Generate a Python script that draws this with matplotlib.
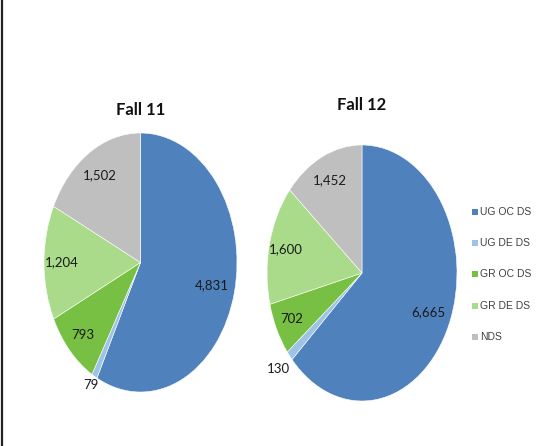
import matplotlib
matplotlib.use("Agg")
import matplotlib.pyplot as plt
import numpy as np

categories = ["UG OC DS", "UG DE DS", "GR OC DS", "GR DE DS", "NDS"]
fall11 = [4831, 79, 793, 1204, 1502]
fall12 = [6665, 130, 702, 1600, 1452]
labels11 = ["4,831", "79", "793", "1,204", "1,502"]
labels12 = ["6,665", "130", "702", "1,600", "1,452"]
titles = ["Fall 11", "Fall 12"]
colors = ["#4F81BD", "#9DC3E6", "#77C043", "#A9DB8A", "#BFBFBF"]

W, H = 560, 446
fig = plt.figure(figsize=(W / 100, H / 100), dpi=100)
fig.patch.set_facecolor("white")
FONT = ["Lato", "DejaVu Sans"]

def px_axes(x0, y0, x1, y1):
    return fig.add_axes([x0 / W, 1 - y1 / H, (x1 - x0) / W, (y1 - y0) / H])

# label radial distances (fraction of radius) per wedge
r11 = [0.76, 1.08, 0.82, 0.82, 0.80]
r12 = [0.76, 1.16, 0.82, 0.82, 0.80]

specs = [
    (fall11, labels11, r11, (44, 133, 237, 392), 110),
    (fall12, labels12, r12, (267, 145, 457, 401), 105),
]

for (vals, labs, rr, box, ty), title in zip(specs, titles):
    ax = px_axes(*box)
    wedges, _ = ax.pie(vals, colors=colors, startangle=90, counterclock=False,
                       wedgeprops=dict(edgecolor="white", linewidth=0.4))
    ax.set_aspect("auto")
    ax.set_xlim(-1, 1)
    ax.set_ylim(-1, 1)
    ax.axis("off")
    for w, lab, r in zip(wedges, labs, rr):
        ang = np.deg2rad((w.theta1 + w.theta2) / 2)
        ax.text(r * np.cos(ang), r * np.sin(ang), lab, ha="center", va="center",
                fontsize=9.5, color="#1a1a1a", family=FONT)
    cx = (box[0] + box[2]) / 2
    fig.text(cx / W, 1 - ty / H, title, ha="center", va="center",
             fontsize=12, fontweight="bold", color="#111111", family=FONT)

# legend
ys = [212, 243, 274, 306, 337]
for c, name, y in zip(colors, categories, ys):
    fig.patches.append(plt.Rectangle((472 / W, 1 - (y + 3) / H), 6 / W, 6 / H,
                                     transform=fig.transFigure, facecolor=c,
                                     edgecolor="none"))
    fig.text(480 / W, 1 - y / H, name, ha="left", va="center", fontsize=7.5,
             color="#404040", family=["Liberation Sans", "DejaVu Sans"])

# left border line
fig.add_artist(plt.Line2D([2 / W, 2 / W], [0, 1], transform=fig.transFigure,
                          color="#222222", linewidth=1.6))

fig.savefig("out.png", dpi=100)
